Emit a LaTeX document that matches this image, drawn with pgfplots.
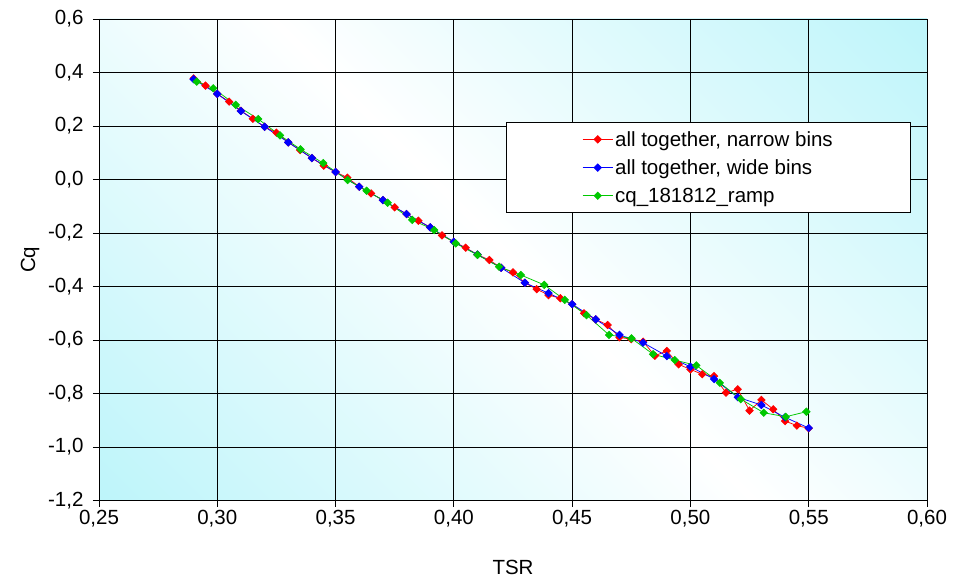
\documentclass[border=0pt]{standalone}
\usepackage{pgfplots}
\pgfplotsset{compat=1.18}
\usepackage{fontspec}
\setmainfont{Liberation Sans}

\definecolor{bgcyan}{RGB}{190,245,250}
\definecolor{cqred}{RGB}{255,0,0}
\definecolor{cqblue}{RGB}{0,0,255}
\definecolor{cqgreen}{RGB}{0,200,0}
\pgfdeclarehorizontalshading{plotbg}{100bp}{color(0bp)=(bgcyan); color(15bp)=(bgcyan); color(50bp)=(white); color(85bp)=(bgcyan); color(100bp)=(bgcyan)}

\begin{document}
\begin{tikzpicture}
\useasboundingbox (0,0) rectangle (955bp,578bp);
\begin{axis}[
    at={(99bp,77.5bp)}, anchor=south west,
    scale only axis,
    width=828bp, height=481.5bp,
    xmin=0.25, xmax=0.60, ymin=-1.2, ymax=0.6,
    xtick={0.25,0.30,...,0.60},
    xticklabels={{0,25},{0,30},{0,35},{0,40},{0,45},{0,50},{0,55},{0,60}},
    ytick={-1.2,-1.0,...,0.6},
    yticklabels={{-1,2},{-1,0},{-0,8},{-0,6},{-0,4},{-0,2},{0,0},{0,2},{0,4},{0,6}},
    tick align=outside,
    xtick pos=bottom, ytick pos=left,
    major tick length=6bp,
    tick style={black, line width=0.8bp},
    grid=major,
    major grid style={black, line width=0.8bp},
    axis line style={black, line width=0.8bp},
    axis background/.style={shade, shading=plotbg, shading angle=45},
    ticklabel style={font=\fontsize{20.5bp}{24bp}\selectfont},
    yticklabel style={xshift=-6bp},
    label style={font=\fontsize{20.5bp}{24bp}\selectfont},
    xlabel={TSR},
    ylabel={Cq},
    xlabel style={at={(axis description cs:0.5,-0.140)}, anchor=center},
    ylabel style={at={(axis description cs:-0.0833,0.5)}, anchor=center, rotate=0},
    legend style={
        at={(0.4915,0.7855)}, anchor=north west,
        draw=black, line width=0.8bp, fill=white,
        font=\fontsize{20.5bp}{24bp}\selectfont,
        inner xsep=76bp, inner ysep=6.5bp,
        row sep=8bp,
        cells={anchor=west},
    },
    legend image code/.code={%
        \draw[mark repeat=2, mark phase=2, #1]
            plot coordinates {(0bp,0bp) (15bp,0bp) (30bp,0bp)};},
    every axis plot/.append style={line width=0.75bp, mark=square*, mark size=2.6bp},
]
% all together, narrow bins
\addplot[color=cqred, mark options={fill=cqred, draw=cqred, rotate=45, solid}] coordinates {
(0.290,0.378) (0.295,0.351) (0.300,0.320) (0.305,0.291) (0.310,0.257)
(0.315,0.227) (0.320,0.197) (0.325,0.175) (0.330,0.139) (0.335,0.110)
(0.340,0.080) (0.345,0.052) (0.350,0.028) (0.355,0.007) (0.360,-0.027)
(0.365,-0.052) (0.370,-0.077) (0.375,-0.104) (0.380,-0.129) (0.385,-0.154)
(0.390,-0.179) (0.395,-0.209) (0.400,-0.233) (0.405,-0.255) (0.410,-0.281)
(0.415,-0.301) (0.420,-0.330) (0.425,-0.347) (0.430,-0.386) (0.435,-0.410)
(0.440,-0.432) (0.445,-0.444) (0.450,-0.466) (0.455,-0.500) (0.460,-0.523)
(0.465,-0.544) (0.470,-0.590) (0.475,-0.597) (0.480,-0.606) (0.485,-0.659)
(0.490,-0.641) (0.495,-0.691) (0.500,-0.710) (0.505,-0.728) (0.510,-0.735)
(0.515,-0.797) (0.520,-0.784) (0.525,-0.864) (0.530,-0.824) (0.535,-0.859)
(0.540,-0.903) (0.545,-0.920) (0.550,-0.930)
};
\addlegendentry{all together, narrow bins}
% all together, wide bins
\addplot[color=cqblue, mark options={fill=cqblue, draw=cqblue, rotate=45, solid}] coordinates {
(0.29,0.375) (0.30,0.320) (0.31,0.256) (0.32,0.197) (0.33,0.139)
(0.34,0.080) (0.35,0.028) (0.36,-0.027) (0.37,-0.077) (0.38,-0.129)
(0.39,-0.179) (0.40,-0.233) (0.41,-0.281) (0.42,-0.330) (0.43,-0.386)
(0.44,-0.425) (0.45,-0.466) (0.46,-0.523) (0.47,-0.581) (0.48,-0.610)
(0.49,-0.660) (0.50,-0.700) (0.51,-0.746) (0.52,-0.814) (0.53,-0.843)
(0.54,-0.889) (0.55,-0.929)
};
\addlegendentry{all together, wide bins}
% cq_181812_ramp
\addplot[color=cqgreen, mark options={fill=cqgreen, draw=cqgreen, rotate=45, solid}] coordinates {
(0.2913,0.366) (0.2983,0.341) (0.3078,0.279) (0.3173,0.226) (0.3265,0.165)
(0.3352,0.113) (0.3448,0.061) (0.3551,-0.002) (0.3631,-0.042) (0.3720,-0.087)
(0.3824,-0.151) (0.3917,-0.189) (0.4008,-0.239) (0.4100,-0.282) (0.4191,-0.326)
(0.4283,-0.357) (0.4382,-0.394) (0.4469,-0.450) (0.4561,-0.507) (0.4656,-0.581)
(0.4751,-0.594) (0.4842,-0.653) (0.4934,-0.675) (0.5025,-0.695) (0.5124,-0.760)
(0.5213,-0.821) (0.5310,-0.872) (0.5403,-0.887) (0.5490,-0.868)
};
\addlegendentry{cq\_181812\_ramp}
\end{axis}
\end{tikzpicture}
\end{document}
